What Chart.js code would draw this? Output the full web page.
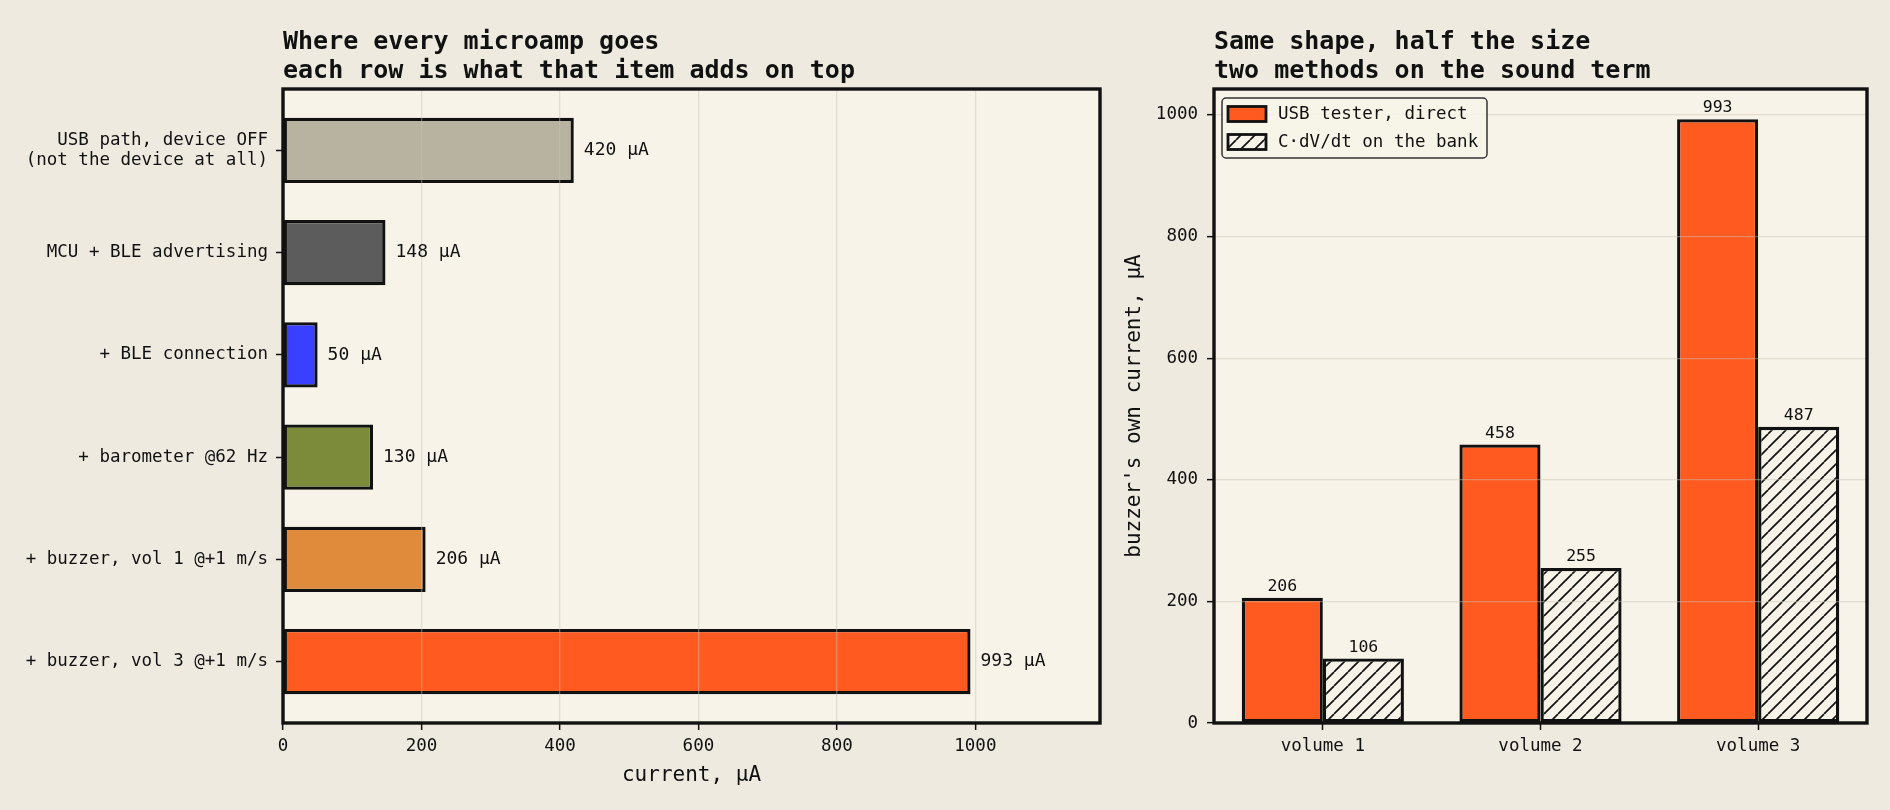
<!DOCTYPE html>
<html>
<head>
<meta charset="utf-8">
<script src="https://cdn.jsdelivr.net/npm/chart.js@4/dist/chart.umd.min.js"></script>
<style>
  html, body { margin: 0; padding: 0; background: #EEEAE0; }
  #wrap { position: relative; width: 1890px; height: 810px; overflow: hidden; }
  #left { position: absolute; left: 0; top: 0; }
  #right { position: absolute; left: 1110px; top: 0; }
</style>
</head>
<body>
<div id="wrap">
  <canvas id="left" width="1110" height="810"></canvas>
  <canvas id="right" width="780" height="810"></canvas>
</div>
<script>
// left panel: what each item adds
const rowLabels = [
  ["USB path, device OFF", "(not the device at all)"],
  "MCU + BLE advertising",
  "+ BLE connection",
  "+ barometer @62 Hz",
  "+ buzzer, vol 1 @+1 m/s",
  "+ buzzer, vol 3 @+1 m/s"
];
const rowValues = [420, 148, 50, 130, 206, 993];
const rowColours = ["#B8B2A0", "#5C5C5C", "#3A40FF", "#7B8B3A", "#E08B3C", "#FF5A1F"];
const currentTicks = [0, 200, 400, 600, 800, 1000];

// right panel: two methods on the sound term
const volumes = ["volume 1", "volume 2", "volume 3"];
const usbTester = [206, 458, 993];
const capBank = [106, 255, 487];
const seriesNames = ["USB tester, direct", "C\u00B7dV/dt on the bank"];
const buzzerTicks = [0, 200, 400, 600, 800, 1000];

const MONO = "'DejaVu Sans Mono', monospace";
const INK = "#111";
const FACE = "#F7F3E8";
const GRID = "rgba(200,195,180,0.45)";

Chart.defaults.font.family = MONO;
Chart.defaults.color = INK;
Chart.defaults.animation = false;

function makeHatch() {
  const s = 14;
  const c = document.createElement("canvas");
  c.width = s; c.height = s;
  const g = c.getContext("2d");
  g.fillStyle = FACE;
  g.fillRect(0, 0, s, s);
  g.strokeStyle = INK;
  g.lineWidth = 1.7;
  for (let k = -1; k <= 1; k++) {
    g.beginPath();
    g.moveTo(k * s, s);
    g.lineTo(k * s + s, 0);
    g.stroke();
  }
  return g.createPattern(c, "repeat");
}

function fixedTicks(list) {
  return (scale) => { scale.ticks = list.map((v) => ({ value: v })); };
}

// axes face, frame and two-line heading
const frame = {
  id: "frame",
  beforeDraw(chart) {
    const { ctx, chartArea: a } = chart;
    ctx.save();
    ctx.fillStyle = FACE;
    ctx.fillRect(a.left, a.top, a.right - a.left, a.bottom - a.top);
    ctx.restore();
  },
  afterDraw(chart, args, opts) {
    const { ctx, chartArea: a } = chart;
    ctx.save();
    ctx.strokeStyle = INK;
    ctx.lineWidth = 3.4;
    ctx.strokeRect(a.left, a.top, a.right - a.left, a.bottom - a.top);
    ctx.fillStyle = INK;
    ctx.font = "bold 25px " + MONO;
    ctx.textAlign = "left";
    ctx.textBaseline = "alphabetic";
    (opts.lines || []).forEach((t, i) => ctx.fillText(t, a.left, 49 + i * 29));
    ctx.restore();
  }
};

const barText = {
  id: "barText",
  afterDraw(chart, args, opts) {
    const { ctx } = chart;
    ctx.save();
    ctx.fillStyle = INK;
    chart.data.datasets.forEach((ds, i) => {
      chart.getDatasetMeta(i).data.forEach((el, j) => {
        const raw = ds.data[j];
        const v = typeof raw === "object" ? raw.x : raw;
        if (opts.horizontal) {
          ctx.font = "18px " + MONO;
          ctx.textAlign = "left";
          ctx.textBaseline = "middle";
          ctx.fillText(v + " \u00B5A", el.x + 10, el.y);
        } else {
          ctx.font = "16.5px " + MONO;
          ctx.textAlign = "center";
          ctx.textBaseline = "alphabetic";
          ctx.fillText(String(v), el.x, el.y - 7);
        }
      });
    });
    ctx.restore();
  }
};

const boxLegend = {
  id: "boxLegend",
  afterDraw(chart) {
    const { ctx, chartArea: a } = chart;
    const x = a.left + 8, y = a.top + 9, w = 265, h = 60, r = 4;
    ctx.save();
    ctx.beginPath();
    ctx.moveTo(x + r, y);
    ctx.lineTo(x + w - r, y);
    ctx.arcTo(x + w, y, x + w, y + r, r);
    ctx.lineTo(x + w, y + h - r);
    ctx.arcTo(x + w, y + h, x + w - r, y + h, r);
    ctx.lineTo(x + r, y + h);
    ctx.arcTo(x, y + h, x, y + h - r, r);
    ctx.lineTo(x, y + r);
    ctx.arcTo(x, y, x + r, y, r);
    ctx.closePath();
    ctx.fillStyle = "rgba(247,243,232,0.85)";
    ctx.fill();
    ctx.strokeStyle = "#333";
    ctx.lineWidth = 1.5;
    ctx.stroke();
    chart.data.datasets.forEach((ds, i) => {
      const cy = y + 16 + i * 28;
      ctx.fillStyle = ds.backgroundColor;
      ctx.fillRect(x + 6, cy - 7.5, 38, 15);
      ctx.strokeStyle = INK;
      ctx.lineWidth = 2.8;
      ctx.strokeRect(x + 6, cy - 7.5, 38, 15);
      ctx.fillStyle = INK;
      ctx.font = "17.5px " + MONO;
      ctx.textAlign = "left";
      ctx.textBaseline = "middle";
      ctx.fillText(ds.label, x + 56, cy);
    });
    ctx.restore();
  }
};

new Chart(document.getElementById("left"), {
  type: "bar",
  data: {
    datasets: [{
      data: rowValues.map((v, i) => ({ x: v, y: i })),
      backgroundColor: rowColours,
      borderColor: INK,
      borderWidth: 3.3,
      borderSkipped: false,
      categoryPercentage: 0.64,
      barPercentage: 1
    }]
  },
  options: {
    responsive: false,
    indexAxis: "y",
    layout: { padding: { top: 89, right: 10, left: 0, bottom: 0 } },
    plugins: {
      legend: { display: false },
      tooltip: { enabled: false },
      frame: { lines: ["Where every microamp goes", "each row is what that item adds on top"] },
      barText: { horizontal: true }
    },
    scales: {
      x: {
        type: "linear",
        min: 0,
        max: 1180,
        afterBuildTicks: fixedTicks(currentTicks),
        afterFit(s) { s.height = 87; },
        border: { display: false },
        grid: { z: 1, color: GRID, lineWidth: 1.3, tickLength: 7, tickColor: INK, tickWidth: 1.5 },
        ticks: { padding: 6, font: { size: 17.5 }, callback: (v) => String(v) },
        title: { display: true, text: "current, \u00B5A", font: { size: 21 }, padding: { top: 0, bottom: 22 } }
      },
      y: {
        type: "linear",
        reverse: true,
        offset: false,
        min: -0.6,
        max: 5.6,
        afterBuildTicks: fixedTicks(rowLabels.map((_, i) => i)),
        afterFit(s) { s.width = 283; },
        border: { display: false },
        grid: { offset: false, drawOnChartArea: false, tickLength: 7, tickColor: INK, tickWidth: 1.5 },
        ticks: {
          autoSkip: false,
          padding: 8,
          font: { size: 17.5, lineHeight: 1.18 },
          callback: (v) => rowLabels[v]
        }
      }
    }
  },
  plugins: [frame, barText]
});

new Chart(document.getElementById("right"), {
  type: "bar",
  data: {
    labels: volumes,
    datasets: [{
      label: seriesNames[0],
      data: usbTester,
      backgroundColor: "#FF5A1F",
      borderColor: INK,
      borderWidth: 3.3,
      borderSkipped: false,
      categoryPercentage: 0.745,
      barPercentage: 1
    }, {
      label: seriesNames[1],
      data: capBank,
      backgroundColor: makeHatch(),
      borderColor: INK,
      borderWidth: 3.3,
      borderSkipped: false,
      categoryPercentage: 0.745,
      barPercentage: 1
    }]
  },
  options: {
    responsive: false,
    layout: { padding: { top: 89, right: 23, left: 0, bottom: 0 } },
    plugins: {
      legend: { display: false },
      tooltip: { enabled: false },
      frame: { lines: ["Same shape, half the size", "two methods on the sound term"] },
      barText: { horizontal: false }
    },
    scales: {
      x: {
        offset: true,
        afterFit(s) { s.height = 87; },
        border: { display: false },
        grid: { offset: false, drawOnChartArea: false, tickLength: 7, tickColor: INK, tickWidth: 1.5 },
        ticks: { padding: 6, font: { size: 17.5 } }
      },
      y: {
        min: 0,
        max: 1042.65,
        afterBuildTicks: fixedTicks(buzzerTicks),
        afterFit(s) { s.width = 104; },
        border: { display: false },
        grid: { z: 1, color: GRID, lineWidth: 1.3, tickLength: 7, tickColor: INK, tickWidth: 1.5 },
        ticks: { padding: 9, font: { size: 17.5 }, callback: (v) => String(v) },
        title: { display: true, text: "buzzer's own current, \u00B5A", font: { size: 21 }, padding: { top: 12, bottom: 0 } }
      }
    }
  },
  plugins: [frame, barText, boxLegend]
});
</script>
</body>
</html>
